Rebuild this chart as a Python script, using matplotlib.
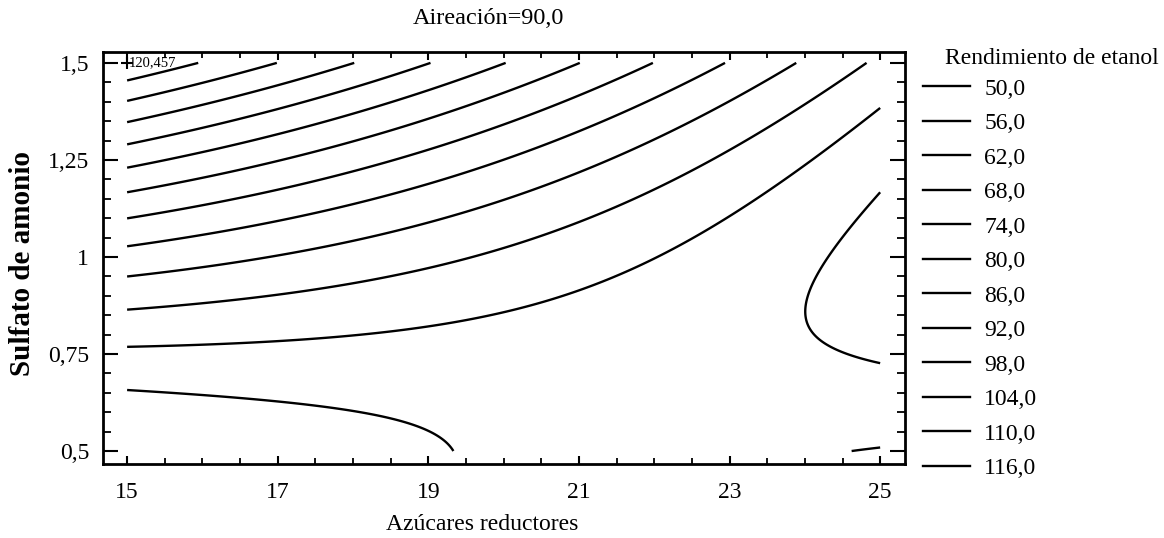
# Gráfico de contornos: rendimiento de etanol (Aireación = 90,0)
import numpy as np
import matplotlib.pyplot as plt
from matplotlib.pyplot import MultipleLocator
from matplotlib.lines import Line2D

plt.rcParams['font.family'] = ['Liberation Serif', 'DejaVu Serif']

# Coeficientes del modelo de superficie de respuesta (estimados del gráfico)
# y = b0 + b1*x + b2*z + b11*x^2 + b22*z^2 + b12*x*z
coef_lin = [-55.059, 6.699, 104.391]      # b0, b1, b2
coef_quad = [-0.04292, 42.0, -7.3559]     # b11, b22, b12

# Niveles de contorno
levels = [50.0, 56.0, 62.0, 68.0, 74.0, 80.0, 86.0, 92.0, 98.0, 104.0, 110.0, 116.0]
level_labels = ['50,0', '56,0', '62,0', '68,0', '74,0', '80,0', '86,0', '92,0',
                '98,0', '104,0', '110,0', '116,0']

# Rango de los factores
x_range = [15, 25]        # Azúcares reductores
z_range = [0.5, 1.5]      # Sulfato de amonio

x_ticks = [15, 17, 19, 21, 23, 25]
x_ticklabels = ['15', '17', '19', '21', '23', '25']
y_ticks = [0.5, 0.75, 1.0, 1.25, 1.5]
y_ticklabels = ['0,5', '0,75', '1', '1,25', '1,5']

max_point = [15, 1.5]
max_label = '120,457'

# Malla para evaluar el modelo
xg = np.linspace(x_range[0], x_range[1], 400)
zg = np.linspace(z_range[0], z_range[1], 400)
X, Z = np.meshgrid(xg, zg)
b0, b1, b2 = coef_lin
b11, b22, b12 = coef_quad
Y = b0 + b1*X + b2*Z + b11*X**2 + b22*Z**2 + b12*X*Z

fig = plt.figure(figsize=(11.64, 5.38), dpi=100)
ax = fig.add_axes([0.0885, 0.1375, 0.689, 0.7658])
ax.contour(X, Z, Y, levels=levels, colors='k', linewidths=1.7)

ax.set_xlim(14.68, 25.33)
ax.set_ylim(0.4665, 1.528)

ax.set_xticks(x_ticks)
ax.set_xticklabels(x_ticklabels)
ax.set_yticks(y_ticks)
ax.set_yticklabels(y_ticklabels)
ax.xaxis.set_minor_locator(MultipleLocator(0.5))
ax.yaxis.set_minor_locator(MultipleLocator(0.05))

ax.tick_params(axis='x', which='major', direction='in', length=6, width=1.5,
               top=True, labelsize=17, pad=13)
ax.tick_params(axis='x', which='minor', direction='in', length=4, width=1.3, top=True)
ax.tick_params(axis='y', which='major', direction='in', length=11, width=1.5,
               right=True, labelsize=17, pad=10)
ax.tick_params(axis='y', which='minor', direction='in', length=6, width=1.3, right=True)
for sp in ax.spines.values():
    sp.set_linewidth(2)

# Punto máximo
ax.plot(max_point[0], max_point[1], marker='+', color='k', markersize=9, mew=1.5,
        clip_on=False)
ax.annotate(max_label, (max_point[0], max_point[1]), xytext=(1, 0),
            textcoords='offset points', ha='left', va='center', fontsize=10.5)

# Textos
fig.text(488/1164, 1 - 18/538, 'Aireación=90,0', ha='center', va='center', fontsize=17.5)
fig.text(482/1164, 1 - 524/538, 'Azúcares reductores', ha='center', va='center',
         fontsize=17)
fig.text(23/1164, 1 - 263/538, 'Sulfato de amonio', ha='center', va='center',
         rotation=90, fontsize=21, fontweight='bold')

# Leyenda
fig.text(945/1164, 1 - 58/538, 'Rendimiento de etanol', ha='left', va='center',
         fontsize=17)
handles = [Line2D([0], [0], color='k', lw=1.7) for _ in levels]
fig.legend(handles, level_labels, loc='upper left',
           bbox_to_anchor=(923/1164, 1 - 78/538),
           frameon=False, handlelength=2.0, handletextpad=0.6, labelspacing=0.55,
           fontsize=17, borderpad=0, borderaxespad=0)

plt.savefig('out.png', dpi=100)
